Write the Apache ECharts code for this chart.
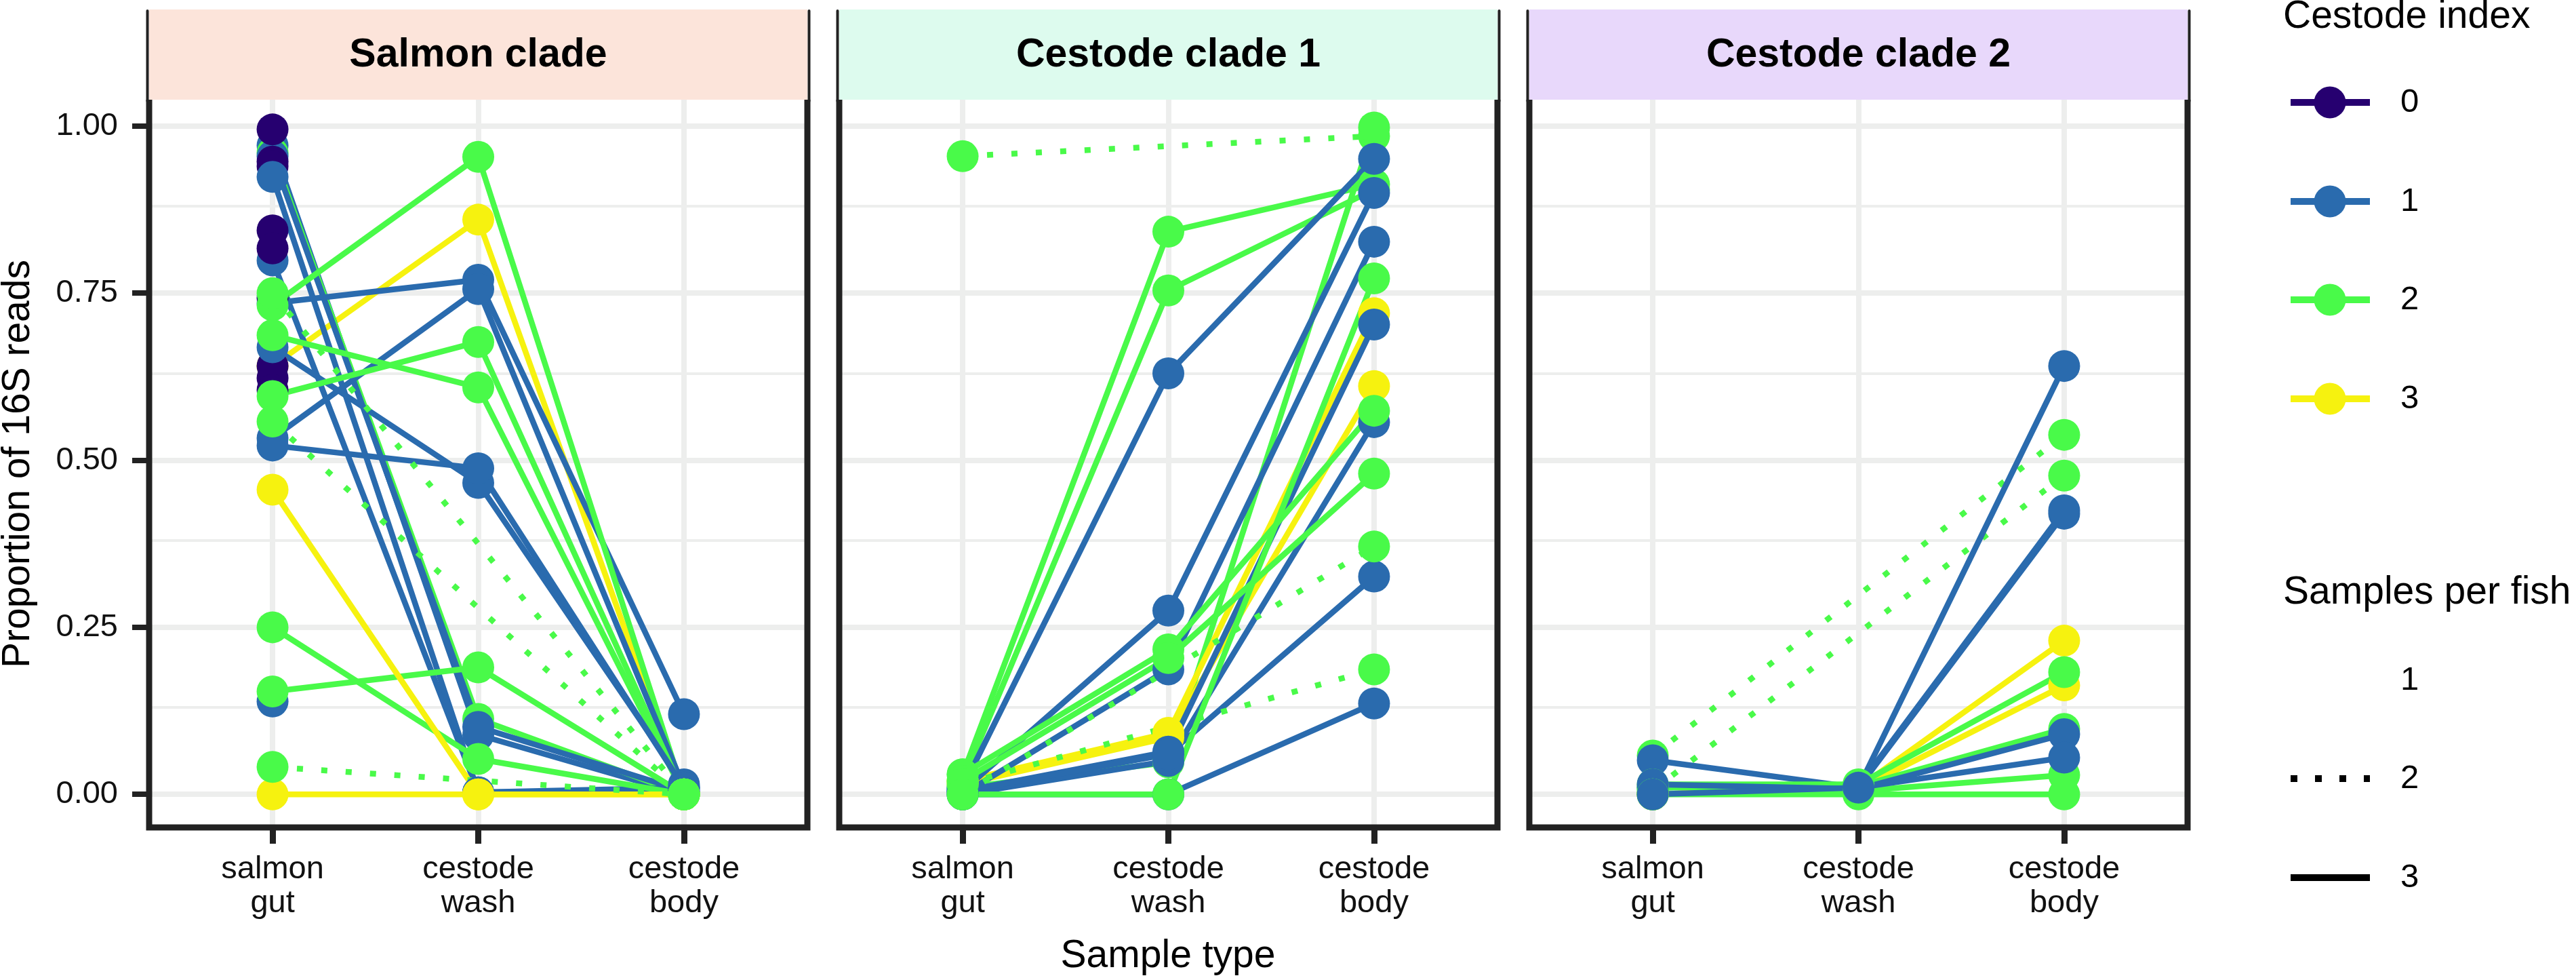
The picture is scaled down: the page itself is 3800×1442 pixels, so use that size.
<!DOCTYPE html>
<html>
<head>
<meta charset="utf-8">
<script src="https://cdn.jsdelivr.net/npm/echarts@6/dist/echarts.min.js"></script>
<style>html,body{margin:0;padding:0;background:#fff}#c{width:3800px;height:1442px}</style>
</head>
<body>
<div id="c"></div>
<script>
// ---------------- data ----------------
const categories = ['salmon\ngut', 'cestode\nwash', 'cestode\nbody'];
const panelTitles = ['Salmon clade', 'Cestode clade 1', 'Cestode clade 2'];
const yTicks = [0, 0.25, 0.5, 0.75, 1];
const yTickLabels = ['0.00', '0.25', '0.50', '0.75', '1.00'];
const yMinorTicks = [0.125, 0.375, 0.625, 0.875];
const cestodeIndexLabels = ['0', '1', '2', '3'];
const samplesPerFishLabels = ['1', '2', '3'];

// rows (in drawing order): [cestode index, samples per fish, salmon gut, cestode wash, cestode body]
const salmonClade = [
  [3, 3, 0.641, 0.860, 0.000],
  [1, 3, 0.971, 0.089, 0.000],
  [2, 3, 0.960, 0.113, 0.000],
  [1, 3, 0.955, 0.101, 0.005],
  [1, 3, 0.799, 0.003, 0.005],
  [1, 3, 0.735, 0.770, 0.120],
  [0, 1, 0.995, null, null],
  [0, 1, 0.947, null, null],
  [0, 1, 0.940, null, null],
  [0, 1, 0.844, null, null],
  [0, 1, 0.817, null, null],
  [0, 1, 0.743, null, null],
  [0, 1, 0.641, null, null],
  [0, 1, 0.623, null, null],
  [0, 1, 0.605, null, null],
  [1, 3, 0.924, 0.003, 0.010],
  [1, 3, 0.669, 0.466, 0.015],
  [1, 1, 0.139, null, null],
  [2, 3, 0.732, 0.954, 0.000],
  [1, 3, 0.533, 0.756, 0.010],
  [2, 3, 0.687, 0.609, 0.000],
  [2, 3, 0.596, 0.677, 0.000],
  [1, 3, 0.522, 0.488, 0.010],
  [2, 3, 0.250, 0.053, 0.000],
  [2, 3, 0.154, 0.190, 0.000],
  [3, 3, 0.456, 0.000, 0.000],
  [3, 3, 0.000, 0.000, 0.000],
  [2, 2, 0.750, null, 0.000],
  [2, 2, 0.558, null, 0.000],
  [2, 2, 0.041, null, 0.000]
];
const cestodeClade1 = [
  [2, 2, 0.955, null, 0.985],
  [2, 3, 0.010, 0.048, 0.998],
  [2, 3, 0.030, 0.842, 0.913],
  [2, 3, 0.020, 0.754, 0.905],
  [3, 3, 0.020, 0.092, 0.720],
  [3, 3, 0.015, 0.085, 0.611],
  [1, 3, 0.000, 0.050, 0.557],
  [1, 3, 0.010, 0.630, 0.951],
  [1, 3, 0.005, 0.275, 0.900],
  [1, 3, 0.000, 0.187, 0.827],
  [1, 3, 0.005, 0.064, 0.703],
  [2, 3, 0.030, 0.217, 0.574],
  [2, 3, 0.020, 0.204, 0.480],
  [1, 3, 0.005, 0.060, 0.326],
  [1, 3, 0.000, 0.000, 0.136],
  [2, 2, 0.000, null, 0.371],
  [2, 2, 0.015, null, 0.187],
  [2, 3, 0.000, 0.000, 0.772]
];
const cestodeClade2 = [
  [2, 2, 0.058, null, 0.538],
  [2, 2, 0.006, null, 0.477],
  [1, 3, 0.051, 0.010, 0.641],
  [1, 3, 0.000, 0.010, 0.420],
  [1, 3, 0.010, 0.012, 0.425],
  [3, 3, 0.000, 0.010, 0.230],
  [3, 3, 0.000, 0.008, 0.163],
  [2, 3, 0.015, 0.015, 0.183],
  [2, 3, 0.010, 0.012, 0.098],
  [1, 3, 0.015, 0.008, 0.090],
  [2, 3, 0.000, 0.005, 0.029],
  [2, 3, 0.000, 0.000, 0.000],
  [1, 3, 0.000, 0.010, 0.055]
];

// ---------------- style / layout ----------------
const COLORS = ['#260070', '#2A6BAE', '#49FA49', '#F6F20F'];
const STRIP_FILL = ['#FCE4DA', '#DDFBEE', '#E8D8FB'];
const GRID_COLOR = '#EDEEED';
const FRAME = '#222222';
const FONT = '"Liberation Sans", Arial, Helvetica, sans-serif';
const LEFTS = [220, 1238, 2256];
const W = 971, TOP = 147, BOTTOM = 1220, STRIP_TOP = 14;
const Y_MIN = -0.0495, Y_MAX = 1.0395;
const DOT = [9, 27];
const LW = 8.5, PT = 47;

const panels = [salmonClade, cestodeClade1, cestodeClade2];
const grid = [], xAxis = [], yAxis = [], series = [], graphic = [];

function tickLabel(v) {
  for (let i = 0; i < yTicks.length; i++) if (Math.abs(yTicks[i] - v) < 1e-6) return yTickLabels[i];
  return '';
}

panels.forEach((rows, p) => {
  const L = LEFTS[p], R = LEFTS[p] + W;
  grid.push({ left: L, top: TOP, width: W, height: BOTTOM - TOP, show: false, containLabel: false, outerBoundsMode: 'none' });
  xAxis.push({
    type: 'value', gridIndex: p, min: 0.4, max: 3.6, position: 'bottom',
    axisLine: { show: false, onZero: false }, splitLine: { show: false },
    axisTick: { show: true, customValues: [1, 2, 3], length: 24, lineStyle: { color: FRAME, width: 9 } },
    axisLabel: { show: true, customValues: [1, 2, 3], formatter: v => categories[Math.round(v) - 1] || '',
      margin: 37, fontFamily: FONT, fontSize: 47, lineHeight: 50, color: '#111' }
  });
  yAxis.push({
    type: 'value', gridIndex: p, min: Y_MIN, max: Y_MAX, position: 'left',
    axisLine: { show: false, onZero: false }, splitLine: { show: false },
    axisTick: { show: p === 0, customValues: yTicks, length: 25, lineStyle: { color: FRAME, width: 8 } },
    axisLabel: { show: p === 0, customValues: yTicks, formatter: v => tickLabel(v),
      margin: 46, fontFamily: FONT, fontSize: 47, color: '#111' }
  });

  // grid lines (drawn beneath everything)
  const ml = [];
  yTicks.forEach(v => ml.push({ yAxis: v, lineStyle: { color: GRID_COLOR, width: 8, type: 'solid' } }));
  yMinorTicks.forEach(v => ml.push({ yAxis: v, lineStyle: { color: GRID_COLOR, width: 4, type: 'solid' } }));
  [1, 2, 3].forEach(v => ml.push({ xAxis: v, lineStyle: { color: GRID_COLOR, width: 8, type: 'solid' } }));
  series.push({
    type: 'line', xAxisIndex: p, yAxisIndex: p, data: [], z: 1, silent: true, animation: false,
    markLine: { z: 1, zlevel: 0, silent: true, animation: false, symbol: ['none', 'none'], label: { show: false }, data: ml }
  });

  // lines per fish/cestode
  rows.forEach(r => {
    const [ci, spf, g, w, b] = r;
    if (spf < 2) return;
    const d = [[1, g], [2, w], [3, b]].filter(q => q[1] !== null);
    series.push({
      type: 'line', xAxisIndex: p, yAxisIndex: p, z: 3, silent: true, animation: false,
      symbol: 'none', data: d,
      lineStyle: { color: COLORS[ci], width: LW, type: spf === 2 ? DOT : 'solid', cap: 'butt' }
    });
  });

  // points, in row order
  const pts = [];
  rows.forEach(r => {
    [2, 3, 4].forEach((k, j) => {
      if (r[k] !== null) pts.push({ value: [j + 1, r[k]], itemStyle: { color: COLORS[r[0]] } });
    });
  });
  series.push({
    type: 'scatter', xAxisIndex: p, yAxisIndex: p, z: 4, silent: true, animation: false,
    symbol: 'circle', symbolSize: PT, data: pts, itemStyle: { opacity: 1 }
  });

  // strip + frame
  graphic.push({ type: 'rect', z: 0, shape: { x: L, y: STRIP_TOP, width: W, height: TOP - STRIP_TOP }, style: { fill: STRIP_FILL[p] } });
  graphic.push({ type: 'text', z: 20, x: (L + R) / 2, y: 82,
    style: { text: panelTitles[p], fontFamily: FONT, fontWeight: 'bold', fontSize: 59, fill: '#000',
      align: 'center', verticalAlign: 'middle', textAlign: 'center', textVerticalAlign: 'middle' } });
  graphic.push({ type: 'polyline', z: 20,
    shape: { points: [[L, TOP], [L, BOTTOM], [R, BOTTOM], [R, TOP]] },
    style: { stroke: FRAME, lineWidth: 9, fill: null, lineJoin: 'miter', lineCap: 'butt' } });
  [L - 2.5, R + 2.5].forEach(x => graphic.push({ type: 'line', z: 20,
    shape: { x1: x, y1: STRIP_TOP + 2, x2: x, y2: TOP + 2 },
    style: { stroke: FRAME, lineWidth: 4, lineCap: 'round' } }));
});

// axis titles
graphic.push({ type: 'text', z: 20, x: 1723, y: 1410,
  style: { text: 'Sample type', fontFamily: FONT, fontSize: 57, fill: '#000',
    align: 'center', verticalAlign: 'middle', textAlign: 'center', textVerticalAlign: 'middle' } });
graphic.push({ type: 'text', z: 20, x: 27, y: 684, rotation: Math.PI / 2,
  style: { text: 'Proportion of 16S reads', fontFamily: FONT, fontSize: 57, fill: '#000',
    align: 'center', verticalAlign: 'middle', textAlign: 'center', textVerticalAlign: 'middle' } });

// legends
const LX0 = 3379, LX1 = 3496, LCX = 3437, LTX = 3541, TITLE_X = 3368;
function txt(t, x, y, size) {
  return { type: 'text', z: 20, x: x, y: y,
    style: { text: t, fontFamily: FONT, fontSize: size, fill: '#000',
      align: 'left', verticalAlign: 'middle', textAlign: 'left', textVerticalAlign: 'middle' } };
}
graphic.push(txt('Cestode index', TITLE_X, 25, 57));
const ciY = [151, 297, 442, 588];
cestodeIndexLabels.forEach((lab, i) => {
  graphic.push({ type: 'line', z: 20, shape: { x1: LX0, y1: ciY[i], x2: LX1, y2: ciY[i] }, style: { stroke: COLORS[i], lineWidth: 10 } });
  graphic.push({ type: 'circle', z: 21, shape: { cx: LCX, cy: ciY[i], r: PT / 2 }, style: { fill: COLORS[i] } });
  graphic.push(txt(lab, LTX, ciY[i], 49));
});
graphic.push(txt('Samples per fish', TITLE_X, 874, 57));
const spY = [1003, 1148, 1294];
samplesPerFishLabels.forEach((lab, i) => {
  if (i === 1) graphic.push({ type: 'line', z: 20, shape: { x1: LX0, y1: spY[i], x2: LX1, y2: spY[i] }, style: { stroke: '#000', lineWidth: 10, lineDash: [10, 26] } });
  if (i === 2) graphic.push({ type: 'line', z: 20, shape: { x1: LX0, y1: spY[i], x2: LX1, y2: spY[i] }, style: { stroke: '#000', lineWidth: 10 } });
  graphic.push(txt(lab, LTX, spY[i], 49));
});

const chart = echarts.init(document.getElementById('c'), null, { renderer: 'canvas', width: 3800, height: 1442 });
chart.setOption({ animation: false, backgroundColor: '#ffffff', grid, xAxis, yAxis, series, graphic });
</script>
</body>
</html>
